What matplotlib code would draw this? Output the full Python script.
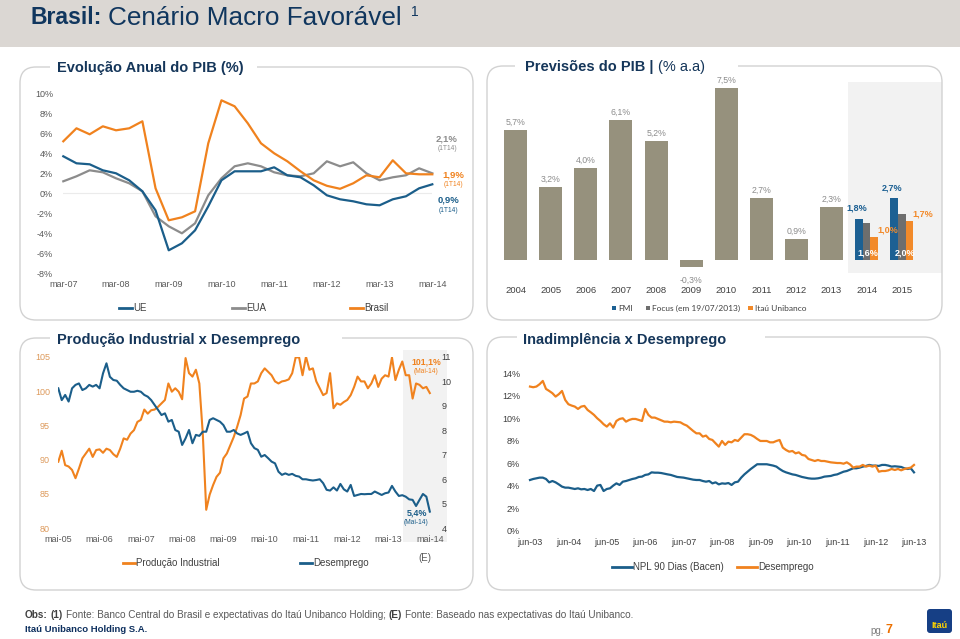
import matplotlib
matplotlib.use("Agg")
import matplotlib.pyplot as plt
from matplotlib.patches import FancyBboxPatch, Rectangle
from matplotlib.lines import Line2D
from matplotlib.transforms import Affine2D

plt.rcParams['font.family'] = ['Liberation Sans', 'DejaVu Sans']

# --- Evolucao anual do PIB (%), trimestral mar-07 .. mar-14
pib_ticks = ['mar-07', 'mar-08', 'mar-09', 'mar-10', 'mar-11', 'mar-12', 'mar-13', 'mar-14']
pib_ue = [3.7, 3.0, 2.9, 2.3, 2.0, 1.3, 0.2, -1.7, -5.7, -5.0, -3.7, -1.3, 1.3, 2.2, 2.2,
          2.2, 2.6, 1.8, 1.6, 0.8, -0.2, -0.6, -0.8, -1.1, -1.2, -0.6, -0.3, 0.5, 0.9]
pib_eua = [1.2, 1.7, 2.3, 2.1, 1.5, 1.0, 0.2, -2.3, -3.3, -4.0, -3.0, -0.2, 1.5, 2.7, 3.0,
           2.7, 2.1, 1.8, 1.7, 2.0, 3.2, 2.7, 3.1, 2.0, 1.3, 1.6, 1.8, 2.5, 2.0]
pib_brasil = [5.2, 6.5, 5.9, 6.7, 6.3, 6.5, 7.2, 0.5, -2.7, -2.4, -1.8, 5.0, 9.3, 8.7, 7.0,
              5.0, 4.0, 3.2, 2.2, 1.3, 0.75, 0.45, 1.0, 1.8, 1.6, 3.3, 2.0, 1.9, 1.9]

# --- Previsoes do PIB (% a.a)
prev_years = ['2004', '2005', '2006', '2007', '2008', '2009', '2010', '2011',
              '2012', '2013', '2014', '2015']
prev_hist = [5.7, 3.2, 4.0, 6.1, 5.2, -0.3, 7.5, 2.7, 0.9, 2.3]
prev_fmi = [1.8, 2.7]
prev_focus = [1.6, 2.0]
prev_itau = [1.0, 1.7]

# --- Producao industrial x desemprego, mensal mai-05 .. mai-14
pi_ticks = ['mai-05', 'mai-06', 'mai-07', 'mai-08', 'mai-09', 'mai-10', 'mai-11',
            'mai-12', 'mai-13', 'mai-14']
prod_ind = [89.7, 91.3, 89.2, 89.0, 88.5, 87.3, 88.7, 90.2, 90.9, 91.6,
            90.4, 91.4, 91.5, 91.0, 91.6, 91.4, 90.8, 90.4, 91.6, 93.1,
            92.9, 93.8, 94.3, 95.5, 95.8, 97.3, 96.7, 97.2, 97.3, 97.7,
            98.2, 98.7, 101.1, 99.9, 100.4, 99.9, 98.8, 104.8, 102.6, 102.1,
            103.1, 101.1, 93.8, 82.7, 84.9, 86.3, 87.5, 88.1, 90.2, 90.9,
            92.1, 93.3, 94.8, 96.5, 98.9, 99.2, 101.1, 101.1, 101.4, 102.6,
            103.3, 102.8, 102.3, 101.4, 101.1, 101.4, 101.5, 101.7, 102.6, 104.9,
            104.9, 102.3, 105.0, 103.1, 103.3, 101.4, 100.4, 99.4, 99.7, 102.6,
            97.5, 98.2, 98.0, 98.4, 98.7, 99.4, 100.6, 102.1, 101.4, 101.4,
            100.4, 101.1, 102.3, 100.6, 101.8, 102.3, 102.1, 104.9, 101.6, 103.1,
            104.3, 102.3, 102.3, 98.9, 101.1, 100.9, 100.4, 100.6, 99.7]
desemp_pi = [9.71, 9.23, 9.44, 9.17, 9.71, 9.85, 9.91, 9.64, 9.71, 9.85,
             9.78, 9.85, 9.71, 10.32, 10.73, 10.18, 10.05, 10.02, 9.85, 9.71,
             9.64, 9.57, 9.57, 9.61, 9.57, 9.44, 9.37, 9.23, 9.03, 8.83,
             8.62, 8.69, 8.35, 8.42, 8.01, 7.94, 7.40, 7.67, 8.01, 7.47,
             7.81, 7.77, 7.94, 7.94, 8.42, 8.49, 8.42, 8.35, 8.21, 7.94,
             7.94, 8.01, 7.87, 7.81, 7.87, 7.94, 7.47, 7.27, 7.20, 6.92,
             6.99, 6.86, 6.72, 6.65, 6.31, 6.18, 6.24, 6.18, 6.22, 6.14,
             6.11, 6.00, 6.00, 5.97, 5.95, 5.97, 6.00, 5.84, 5.57, 5.54,
             5.67, 5.54, 5.81, 5.59, 5.50, 5.77, 5.32, 5.36, 5.40, 5.39,
             5.40, 5.40, 5.50, 5.43, 5.36, 5.43, 5.46, 5.73, 5.50, 5.32,
             5.35, 5.29, 5.18, 5.16, 4.91, 5.16, 5.40, 5.29, 4.68]

# --- Inadimplencia x desemprego, mensal jun-03 .. jun-13 (%)
npl_ticks = ['jun-03', 'jun-04', 'jun-05', 'jun-06', 'jun-07', 'jun-08', 'jun-09',
             'jun-10', 'jun-11', 'jun-12', 'jun-13']
npl = [4.51, 4.60, 4.66, 4.72, 4.72, 4.60, 4.30, 4.42, 4.30, 4.12,
       3.92, 3.83, 3.83, 3.77, 3.71, 3.77, 3.68, 3.71, 3.62, 3.71,
       3.53, 4.01, 4.07, 3.53, 3.71, 3.77, 4.01, 4.21, 4.07, 4.36,
       4.42, 4.51, 4.60, 4.66, 4.78, 4.81, 4.96, 5.01, 5.19, 5.16,
       5.16, 5.13, 5.07, 5.01, 4.96, 4.87, 4.78, 4.75, 4.72, 4.66,
       4.60, 4.54, 4.51, 4.51, 4.42, 4.36, 4.42, 4.21, 4.30, 4.12,
       4.21, 4.18, 4.24, 4.07, 4.30, 4.36, 4.72, 5.01, 5.25, 5.49,
       5.70, 5.91, 5.91, 5.91, 5.91, 5.85, 5.79, 5.70, 5.49, 5.31,
       5.19, 5.10, 5.01, 4.96, 4.87, 4.78, 4.72, 4.66, 4.63, 4.63,
       4.66, 4.72, 4.81, 4.84, 4.87, 4.96, 5.01, 5.13, 5.25, 5.31,
       5.43, 5.55, 5.55, 5.61, 5.70, 5.76, 5.85, 5.79, 5.79, 5.76,
       5.85, 5.85, 5.79, 5.70, 5.73, 5.70, 5.67, 5.55, 5.49, 5.55, 5.19]
desemp_npl = [12.82, 12.76, 12.82, 13.03, 13.32, 12.61, 12.43, 12.23, 11.93, 12.14,
              12.43, 11.63, 11.25, 11.13, 11.04, 10.83, 11.04, 11.10, 10.74, 10.53,
              10.30, 10.00, 9.76, 9.47, 9.26, 9.55, 9.17, 9.76, 9.94, 10.00,
              9.70, 9.85, 9.94, 9.94, 9.85, 9.76, 10.83, 10.30, 10.06, 10.06,
              9.94, 9.82, 9.70, 9.70, 9.64, 9.70, 9.67, 9.64, 9.47, 9.35,
              9.11, 8.87, 8.66, 8.66, 8.37, 8.46, 8.16, 8.07, 7.77, 7.48,
              7.98, 7.63, 7.92, 7.86, 8.07, 7.98, 8.28, 8.58, 8.58, 8.52,
              8.37, 8.16, 7.98, 7.98, 7.98, 7.86, 7.86, 7.98, 8.07, 7.39,
              7.18, 7.03, 7.09, 6.88, 6.97, 6.74, 6.68, 6.38, 6.29, 6.20,
              6.29, 6.20, 6.20, 6.14, 6.08, 6.05, 6.02, 6.02, 5.96, 6.08,
              5.90, 5.61, 5.70, 5.70, 5.85, 5.70, 5.79, 5.70, 5.79, 5.25,
              5.31, 5.31, 5.37, 5.49, 5.40, 5.49, 5.37, 5.49, 5.55, 5.61, 5.85]

BLUE = '#1b5e8a'
ORANGE = '#f0821e'
GRAY = '#8c8c8c'
NAVY = '#15365a'
TICK = '#595959'

W, H = 960, 639
fig = plt.figure(figsize=(9.6, 6.39), dpi=100)
# pixel coordinates, origin top-left
px = Affine2D().scale(1.0 / W, -1.0 / H).translate(0, 1) + fig.transFigure


def box(x0, y0, x1, y1):
    return [x0 / W, 1 - y1 / H, (x1 - x0) / W, (y1 - y0) / H]


def ptext(x, y, s, **kw):
    kw.setdefault('va', 'center')
    return fig.text(x, y, s, transform=px, **kw)


def rich(x, y, parts, size):
    # parts: (text, weight, color[, size]) placed one after another
    r = fig.canvas.get_renderer()
    for p in parts:
        s, weight, color = p[:3]
        sz = p[3] if len(p) > 3 else size
        t = ptext(x, y, s, fontsize=sz, fontweight=weight, color=color, ha='left')
        x += t.get_window_extent(r).width + sz * 100 / 72 * 0.28
    return x


def panel(x0, y0, x1, y1, gap):
    fig.add_artist(FancyBboxPatch((x0, y0), x1 - x0, y1 - y0,
                                  boxstyle='round,pad=0,rounding_size=16', transform=px,
                                  fc='none', ec='#d2d2d2', lw=1.0))
    fig.add_artist(Rectangle((gap[0], y0 - 4), gap[1] - gap[0], 8, transform=px,
                             fc='white', ec='none'))


def legend_line(x0, x1, y, color, label):
    fig.add_artist(Line2D([x0, x1], [y, y], transform=px, color=color, lw=2))
    ptext(x1 + 1, y, label, fontsize=7, color='#404040', ha='left')


def clean(ax):
    for s in ax.spines.values():
        s.set_visible(False)
    ax.set_facecolor('none')


# header
fig.add_artist(Rectangle((0, 0), W, 47, transform=px, fc='#dbd7d3', ec='none'))
end = rich(30, 18, [('Brasil:', 'bold', '#10365e', 16.6),
                    ('Cenário Macro Favorável', 'normal', '#10365e', 18.8)], 16.6)
ptext(end + 2, 12, '1', fontsize=10, color='#10365e', ha='left')

# panel frames
panel(20, 67, 473, 320, (50, 257))
panel(487, 66, 942, 320, (515, 738))
panel(20, 338, 473, 590, (50, 342))
panel(487, 337, 940, 590, (517, 765))
ptext(57, 68, 'Evolução Anual do PIB (%)', fontsize=10.5, fontweight='bold', color=NAVY)
rich(525, 67, [('Previsões do PIB |', 'bold', NAVY), ('(% a.a)', 'normal', NAVY)], 10.5)
ptext(57, 340, 'Produção Industrial x Desemprego', fontsize=10.5, fontweight='bold', color=NAVY)
ptext(523, 340, 'Inadimplência x Desemprego', fontsize=10.5, fontweight='bold', color=NAVY)

# ---- panel 1: PIB
ax1 = fig.add_axes(box(63.3, 93.3, 432.3, 273.3))
clean(ax1)
q = list(range(len(pib_ue)))
ax1.axhline(0, color='#ebebeb', lw=0.8, zorder=0)
ax1.plot(q, pib_eua, color=GRAY, lw=1.6, clip_on=False)
ax1.plot(q, pib_ue, color=BLUE, lw=1.6, clip_on=False)
ax1.plot(q, pib_brasil, color=ORANGE, lw=1.6, clip_on=False)
ax1.set_xlim(0, 28)
ax1.set_ylim(-8, 10)
ax1.set_yticks(range(-8, 11, 2))
ax1.set_yticklabels([f'{v}%' for v in range(-8, 11, 2)])
ax1.set_xticks(range(0, 29, 4))
ax1.set_xticklabels(pib_ticks)
ax1.tick_params(axis='y', length=0, pad=7.3, labelsize=6.5, labelcolor=TICK)
ax1.tick_params(axis='x', length=0, pad=5, labelsize=6.5, labelcolor=TICK)

for lab, sub, x, y, c in [('2,1%', '(1T14)', 447, 139, GRAY),
                          ('1,9%', '(1T14)', 453, 175, ORANGE),
                          ('0,9%', '(1T14)', 448, 200, BLUE)]:
    ptext(x, y, lab, fontsize=6.8, fontweight='bold', color=c, ha='center')
    ptext(x, y + 10, sub, fontsize=4.8, color=c, ha='center')

legend_line(119, 132, 308, BLUE, 'UE')
legend_line(232, 245, 308, GRAY, 'EUA')
legend_line(350, 363, 308, ORANGE, 'Brasil')

# ---- panel 2: previsoes
ax2 = fig.add_axes(box(500, 82, 941.7, 273))
clean(ax2)
ax2.set_xlim(-0.447, 12.14)
ax2.set_ylim(-0.568, 7.776)
ax2.axvspan(9.46, 12.14, color='#f2f2f2', lw=0, zorder=0)
ax2.bar(range(len(prev_hist)), prev_hist, width=0.655, color='#96917d', zorder=2)
for i, v in enumerate(prev_hist):
    lab = f'{v:.1f}%'.replace('.', ',')
    off = 5.5 if v >= 0 else -9.5
    ax2.annotate(lab, (i, v), xytext=(0, off), textcoords='offset points',
                 ha='center', va='center', fontsize=6.3, color=GRAY)
gx = [10, 11]
bw = 0.22
ax2.bar([g - bw for g in gx], prev_fmi, width=bw, color='#1c6093', zorder=2)
ax2.bar(gx, prev_focus, width=bw, color='#6e6e6e', zorder=2)
ax2.bar([g + bw for g in gx], prev_itau, width=bw, color='#f28a2a', zorder=2)
for k, g in enumerate(gx):
    ax2.annotate(f'{prev_fmi[k]:.1f}%'.replace('.', ','), (g - bw, prev_fmi[k]),
                 xytext=(-1.5, 7.5), textcoords='offset points', ha='center', va='center',
                 fontsize=6.5, fontweight='bold', color='#1c6093', zorder=3)
    ax2.annotate(f'{prev_focus[k]:.1f}%'.replace('.', ','), (g, 0),
                 xytext=(1 + 1.5 * k, 4.8), textcoords='offset points', ha='center', va='center',
                 fontsize=6.5, fontweight='bold', color='white', zorder=3)
    ax2.annotate(f'{prev_itau[k]:.1f}%'.replace('.', ','), (g + bw, prev_itau[k]),
                 xytext=(9.8, 5), textcoords='offset points', ha='center', va='center',
                 fontsize=6.5, fontweight='bold', color='#f28a2a', zorder=3)
ax2.set_xticks(range(len(prev_years)))
ax2.set_xticklabels(prev_years)
ax2.set_yticks([])
ax2.tick_params(axis='x', length=0, pad=9.5, labelsize=6.8, labelcolor='#404040')

for x, c, lab in [(611.5, '#1c6093', 'FMI'), (645.5, '#6e6e6e', 'Focus (em 19/07/2013)'),
                  (748, '#f28a2a', 'Itaú Unibanco')]:
    fig.add_artist(Rectangle((x, 305.5), 4.5, 4.5, transform=px, fc=c, ec='none'))
    ptext(x + 7, 308.3, lab, fontsize=6.0, color='#404040', ha='left',
          family=['Lato', 'DejaVu Sans'])

# ---- panel 3: producao industrial x desemprego
ax3 = fig.add_axes(box(58.3, 356.7, 440, 528.3))
clean(ax3)
ax3r = ax3.twinx()
clean(ax3r)
m = list(range(len(prod_ind)))
ax3.axvspan(100.2, 112.9, ymin=-0.078, ymax=1.039, clip_on=False, color='#f2f2f2', lw=0, zorder=0)
ax3.plot(m, prod_ind, color=ORANGE, lw=1.5)
ax3r.plot(m, desemp_pi, color=BLUE, lw=1.5)
ax3.set_xlim(0, 110.96)
ax3.set_ylim(80, 105)
ax3r.set_ylim(4, 11)
ax3.set_yticks(range(80, 106, 5))
ax3r.set_yticks(range(4, 12))
ax3.set_xticks(range(0, 109, 12))
ax3.set_xticklabels(pi_ticks)
ax3.tick_params(axis='y', length=0, pad=6, labelsize=6.5, labelcolor='#dd9a5c')
ax3.tick_params(axis='x', length=0, pad=5, labelsize=6.5, labelcolor=TICK)
ax3r.tick_params(axis='y', length=0, pad=1, labelsize=6.5, labelcolor='#404040')

ptext(426, 362, '101,1%', fontsize=6.3, fontweight='bold', color=ORANGE, ha='center')
ptext(426, 371.5, '(Mai-14)', fontsize=4.8, color=ORANGE, ha='center')
ptext(417, 513, '5,4%', fontsize=6.5, fontweight='bold', color=BLUE, ha='center')
ptext(416, 522.5, '(Mai-14)', fontsize=4.8, color=BLUE, ha='center')
ptext(425, 558, '(E)', fontsize=7, color=TICK, ha='center')
legend_line(123, 135, 563, ORANGE, 'Produção Industrial')
legend_line(300, 312, 563, BLUE, 'Desemprego')

# ---- panel 4: inadimplencia x desemprego
ax4 = fig.add_axes(box(530, 373.3, 914, 530.7))
clean(ax4)
n = list(range(len(npl)))
ax4.plot(n, npl, color=BLUE, lw=1.6, clip_on=False)
ax4.plot(n, desemp_npl, color=ORANGE, lw=1.6, clip_on=False)
ax4.set_xlim(0, 120)
ax4.set_ylim(0, 14)
ax4.set_yticks(range(0, 15, 2))
ax4.set_yticklabels([f'{v}%' for v in range(0, 15, 2)])
ax4.set_xticks(range(0, 121, 12))
ax4.set_xticklabels(npl_ticks)
ax4.tick_params(axis='y', length=0, pad=7.2, labelsize=6.5, labelcolor='#404040')
ax4.tick_params(axis='x', length=0, pad=5, labelsize=6.5, labelcolor='#404040')
legend_line(612, 632, 567, BLUE, 'NPL 90 Dias (Bacen)')
legend_line(737, 757, 567, ORANGE, 'Desemprego')

# ---- footer
rich(25, 615, [('Obs:', 'bold', '#404040'), ('(1)', 'bold', '#404040'),
               ('Fonte: Banco Central do Brasil e expectativas do Itaú Unibanco Holding;', 'normal', TICK),
               ('(E)', 'bold', '#404040'),
               ('Fonte: Baseado nas expectativas do Itaú Unibanco.', 'normal', TICK)], 7.2)
ptext(25, 629, 'Itaú Unibanco Holding S.A.', fontsize=6.8, fontweight='bold', color='#0d2f5e', ha='left')
ptext(870, 631, 'pg.', fontsize=7, color='#7f7f7f', ha='left')
ptext(885, 630, '7', fontsize=9, fontweight='bold', color='#ec7000', ha='left')
fig.add_artist(FancyBboxPatch((927, 609), 25, 24, boxstyle='round,pad=0,rounding_size=3',
                              transform=px, fc='#163f85', ec='none'))
ptext(939.5, 625, 'Itaú', fontsize=6.5, fontweight='bold', color='#ffd400', ha='center')

fig.savefig('out.png', dpi=100)
